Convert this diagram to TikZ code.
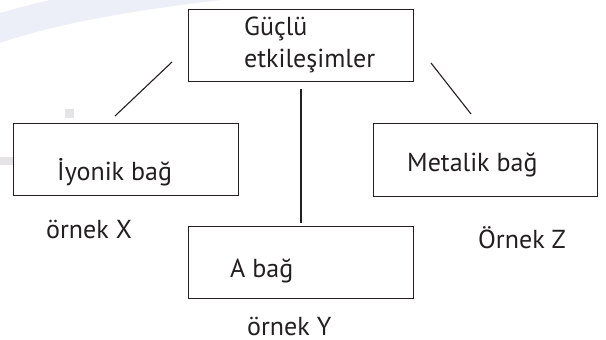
\documentclass[tikz,border=0pt]{standalone}
\usepackage{fontspec}
\setmainfont{PT Sans}
\definecolor{ink}{HTML}{231F20}
\definecolor{swoosh}{HTML}{EDEFF8}
\definecolor{marker}{HTML}{E4E4E6}
\tikzset{
  box/.style={draw=ink, line width=1.5pt, rectangle, inner sep=0pt, fill=none},
  lbl/.style={anchor=base west, inner sep=0pt, text=ink, font=\fontsize{26}{32}\selectfont},
  link/.style={draw=ink, line width=1.1pt}
}
\begin{document}
\begin{tikzpicture}[x=1pt, y=-1pt]
  \useasboundingbox (0,0) rectangle (606,340);
  % faint page background: swoosh band and small grey marks
  \fill[swoosh] (0,13) .. controls (18,8) and (35,3) .. (50,0) -- (222,0)
     .. controls (150,8) and (60,22) .. (0,43) -- cycle;
  \fill[marker] (65,109) rectangle (74,118);
  \fill[marker] (0,157) rectangle (13,165);

  % boxes
  \node[box, minimum width=225pt, minimum height=72pt] (strong) at (301,45.5) {};
  \node[box, minimum width=225pt, minimum height=72pt] (ionic) at (126,159.5) {};
  \node[box, minimum width=224pt, minimum height=73pt] (metal) at (485.5,160) {};
  \node[box, minimum width=225pt, minimum height=72pt] (abond) at (301,262.5) {};

  % box texts
  \node[lbl] (t1) at (244,35) {Güçlü};
  \node[lbl] (t2) at (244,67) {etkileşimler};
  \node[lbl] (t3) at (57,180) {İyonik bağ};
  \node[lbl] (t4) at (407,171) {Metalik bağ};
  \node[lbl] (t5) at (230,277) {A bağ};

  % example captions
  \node[lbl] (ex) at (46,238) {örnek X};
  \node[lbl] (ey) at (247,335) {örnek Y};
  \node[lbl] (ez) at (478,248) {Örnek Z};

  % connector end points (the lines stop short of the boxes)
  \coordinate (la) at (172,62);
  \coordinate (lb) at (115,116);
  \coordinate (ma) at (301,89);
  \coordinate (mb) at (301,223);
  \coordinate (ra) at (431,63);
  \coordinate (rb) at (471,114);
  \draw[link] (la) -- (lb);
  \draw[link] (ma) -- (mb);
  \draw[link] (ra) -- (rb);
\end{tikzpicture}
\end{document}
